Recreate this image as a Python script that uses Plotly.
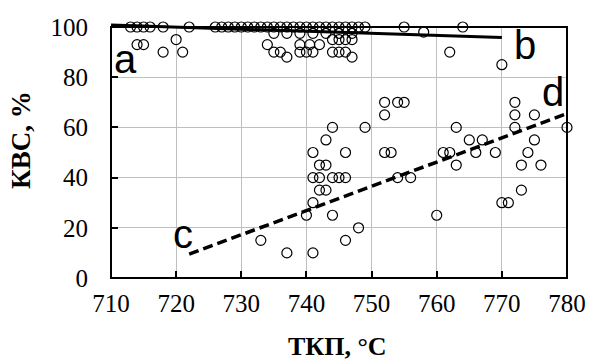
import plotly.graph_objects as go

# ---- data ----
temp_c = [
    # top row (~100 %)
    713, 714, 715, 716, 718, 722, 726, 727, 728, 729, 730, 731, 732, 733, 734, 735,
    736, 737, 738, 739, 740, 741, 742, 743, 744, 745, 746, 747, 748, 749, 755, 764,
    # row just under line (~97-98 %)
    735, 737, 739, 741, 743, 745, 747, 758,
    # 93-95 %
    714, 715, 720, 734, 739, 740.5, 742, 744, 745, 746, 747,
    # ~90 %
    718, 721, 735, 736, 739, 740, 741, 744, 745, 746, 762,
    # ~88 %, 85 %
    737, 747, 770,
    # lower cluster
    733, 737, 740, 741, 741, 741, 741, 742, 742, 742, 743, 743, 743, 744, 744, 744,
    745, 746, 746, 746, 748, 749, 752, 752, 752, 753, 754, 754, 755, 756, 760, 761,
    762, 763, 763, 765, 766, 767, 769, 770, 771, 772, 772, 772, 773, 773, 774, 775,
    775, 776, 780,
]
kvs_pct = [
    100, 100, 100, 100, 100, 100, 100, 100, 100, 100, 100, 100, 100, 100, 100, 100,
    100, 100, 100, 100, 100, 100, 100, 100, 100, 100, 100, 100, 100, 100, 100, 100,
    97.5, 97.5, 97.5, 97.5, 97.5, 97.5, 97.5, 98,
    93, 93, 95, 93, 93, 93, 93, 95, 95, 95, 95,
    90, 90, 90, 90, 90, 90, 90, 90, 90, 90, 90,
    88, 88, 85,
    15, 10, 25, 10, 30, 40, 50, 35, 40, 45, 35, 45, 55, 25, 40, 60,
    40, 15, 40, 50, 20, 60, 50, 65, 70, 50, 40, 70, 70, 40, 25, 50,
    50, 45, 60, 55, 50, 55, 50, 30, 30, 60, 65, 70, 35, 45, 50, 55,
    65, 45, 60,
]

trend_ab_x = [710, 770]
trend_ab_y = [100.8, 95.8]
trend_cd_x = [722, 780]
trend_cd_y = [9.5, 65.5]

letters = ["a", "b", "c", "d"]
letter_x = [712.3, 773.5, 721.0, 777.9]
letter_y = [87.3, 92.7, 17.6, 74.0]

x_ticks = [710, 720, 730, 740, 750, 760, 770, 780]
y_ticks = [0, 20, 40, 60, 80, 100]
x_range = [710, 780]
y_range = [0, 102]
y_top = 100

x_title = "ТКП, °C"
y_title = "КВС, %"

SERIF = "Liberation Serif"
SANS = "Liberation Sans"

fig = go.Figure()
fig.add_trace(go.Scatter(
    x=temp_c, y=kvs_pct, mode="markers", cliponaxis=False,
    marker=dict(symbol="circle-open", size=10, color="black", line=dict(width=1.2)),
))
fig.add_trace(go.Scatter(
    x=trend_ab_x, y=trend_ab_y, mode="lines", line=dict(color="black", width=3),
))
fig.add_trace(go.Scatter(
    x=trend_cd_x, y=trend_cd_y, mode="lines",
    line=dict(color="black", width=3.5, dash="10px,5px"),
))

annotations = []
for t, lx, ly in zip(letters, letter_x, letter_y):
    annotations.append(dict(
        x=lx, y=ly, xref="x", yref="y", text=t, showarrow=False,
        xanchor="center", yanchor="middle",
        font=dict(family=SANS, size=40, color="black"),
    ))
annotations.append(dict(
    x=0.497, y=-0.268, xref="paper", yref="paper", text=x_title, showarrow=False,
    xanchor="center", yanchor="middle",
    font=dict(family=SERIF, size=26, color="black", weight="bold"),
))
annotations.append(dict(
    x=-0.197, y=0.54, xref="paper", yref="paper", text=y_title, showarrow=False,
    xanchor="center", yanchor="middle", textangle=-90,
    font=dict(family=SERIF, size=27, color="black", weight="bold"),
))

shapes = [
    # hide gridline tips above 100 %
    dict(type="rect", xref="x", yref="y", x0=x_range[0], x1=x_range[1],
         y0=y_top, y1=y_range[1], fillcolor="white", line=dict(width=0), layer="between"),
    # frame
    dict(type="rect", xref="paper", yref="paper", x0=0, x1=1, y0=0,
         y1=(y_top - y_range[0]) / (y_range[1] - y_range[0]),
         line=dict(color="black", width=2), layer="above"),
]

axis_common = dict(
    showgrid=True, gridcolor="#bfbfbf", gridwidth=1,
    ticks="inside", ticklen=7, tickwidth=2, tickcolor="black",
    showline=False, zeroline=False,
    tickfont=dict(family=SERIF, size=25, color="black"),
)

fig.update_layout(
    width=598, height=364,
    margin=dict(l=111, r=26, t=22, b=86),
    plot_bgcolor="white", paper_bgcolor="white",
    showlegend=False,
    xaxis=dict(range=x_range, tickvals=x_ticks, ticklabelstandoff=8, **axis_common),
    yaxis=dict(range=y_range, tickvals=y_ticks, ticklabelstandoff=22, **axis_common),
    annotations=annotations,
    shapes=shapes,
)

fig.write_html("out.html")
